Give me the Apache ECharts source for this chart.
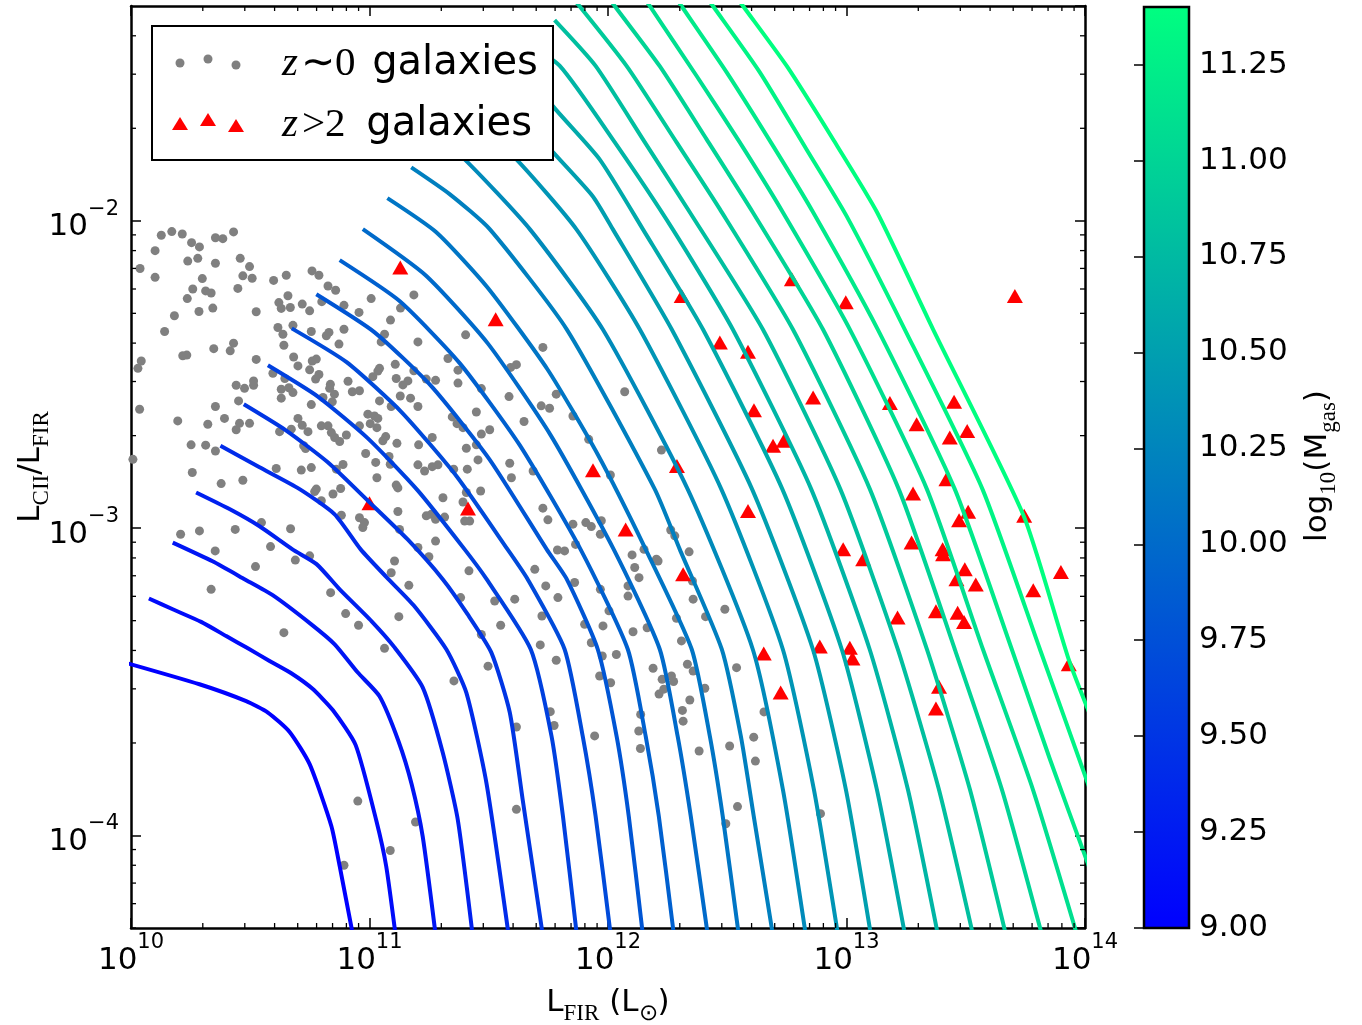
<!DOCTYPE html>
<html><head><meta charset="utf-8">
<script src="https://cdn.jsdelivr.net/npm/echarts@6/dist/echarts.min.js"></script>
<style>html,body{margin:0;padding:0;background:#fff}#c{width:1362px;height:1025px}</style>
</head><body><div id="c"></div>
<script>
// ---------------- DATA ----------------
const xRange = [1e10, 1e14];            // L_FIR (L_sun)
const yRange = [5e-5, 5e-2];            // L_CII / L_FIR
const colorRange = [9.0, 11.4];         // log10(M_gas)
const colorbarTickStep = 0.25;
const massLevels = [9.0,9.1,9.2,9.3,9.4,9.5,9.6,9.7,9.8,9.9,10.0,10.1,10.2,10.3,10.4,10.5,10.6,10.7,10.8,10.9,11.0,11.1,11.2,11.3,11.4];

// z~0 galaxies: [log10 L_FIR, log10 (L_CII/L_FIR)]
const z0Galaxies = [
[10.127,-2.047],[10.171,-2.035],[10.215,-2.043],[10.254,-2.071],[10.287,-2.085],[10.354,-2.055],[10.385,-2.058],[10.430,-2.036],
[10.101,-2.097],[10.238,-2.131],[10.280,-2.122],[10.354,-2.138],[10.458,-2.122],[10.497,-2.149],[10.038,-2.155],[10.101,-2.184],
[10.299,-2.188],[10.469,-2.179],[10.508,-2.187],[10.259,-2.222],[10.313,-2.228],[10.336,-2.235],[10.448,-2.220],[10.236,-2.253],
[10.343,-2.284],[10.285,-2.295],[10.525,-2.296],[10.182,-2.309],[10.141,-2.360],[10.430,-2.398],[10.416,-2.423],[10.347,-2.416],
[10.217,-2.439],[10.234,-2.437],[10.043,-2.456],[10.029,-2.480],[10.525,-2.451],[10.036,-2.613],[10.196,-2.651],[10.322,-2.662],
[10.354,-2.604],[10.392,-2.643],[10.252,-2.729],[10.313,-2.730],[10.354,-2.749],[10.257,-2.819],[10.378,-2.855],[10.469,-2.844],
[10.008,-2.776],
[10.598,-2.194],[10.651,-2.177],[10.759,-2.163],[10.788,-2.177],[10.826,-2.212],[10.858,-2.226],[10.658,-2.244],[10.620,-2.266],
[10.630,-2.285],[10.668,-2.282],[10.718,-2.271],[10.749,-2.293],[10.800,-2.263],[10.893,-2.275],[10.956,-2.298],[11.007,-2.253],
[11.186,-2.241],[11.130,-2.284],[11.088,-2.323],[10.679,-2.340],[10.616,-2.347],[10.637,-2.369],[10.641,-2.405],[10.756,-2.360],
[10.830,-2.363],[10.819,-2.374],[10.872,-2.401],[10.893,-2.353],[11.063,-2.369],[11.049,-2.394],[11.203,-2.394],[11.403,-2.371],
[11.727,-2.412],[11.329,-2.448],[11.371,-2.486],[11.592,-2.477],[11.616,-2.468],[10.682,-2.443],[10.700,-2.472],[10.749,-2.485],
[10.760,-2.456],[10.777,-2.450],[10.595,-2.496],[10.645,-2.513],[10.788,-2.500],[10.774,-2.515],[10.836,-2.532],[10.833,-2.545],
[10.910,-2.522],[10.853,-2.564],[10.958,-2.553],[10.928,-2.556],[11.014,-2.507],[11.042,-2.480],[11.035,-2.489],[11.108,-2.467],
[11.112,-2.513],[11.161,-2.521],[11.140,-2.534],[11.186,-2.488],[11.238,-2.515],[11.277,-2.519],[11.371,-2.528],[11.469,-2.546],
[11.585,-2.572],[11.783,-2.564],[11.720,-2.602],[11.755,-2.610],[11.853,-2.635],[10.441,-2.535],[10.476,-2.545],[10.514,-2.521],
[10.514,-2.535],[10.451,-2.586],[10.630,-2.548],[10.662,-2.543],[10.679,-2.559],[10.630,-2.577],[10.756,-2.598],[10.805,-2.575],
[10.844,-2.589],[11.042,-2.586],[11.091,-2.604],[11.129,-2.570],[11.172,-2.577],[11.203,-2.604],[11.347,-2.638],[11.448,-2.622],
[11.367,-2.660],[11.392,-2.673],[11.648,-2.653],[11.504,-2.680],[11.469,-2.694],[10.993,-2.629],[11.021,-2.635],[11.035,-2.643],
[11.003,-2.660],[11.031,-2.673],[10.958,-2.667],[10.798,-2.667],[10.826,-2.667],[10.840,-2.689],[10.854,-2.705],[10.875,-2.718],
[10.903,-2.697],[10.700,-2.643],[10.718,-2.665],[10.742,-2.686],[10.672,-2.678],[10.623,-2.686],[10.455,-2.659],[10.497,-2.659],
[10.441,-2.680],[11.068,-2.702],[11.056,-2.716],[11.115,-2.724],[11.206,-2.729],[11.263,-2.705],[11.406,-2.740],[11.448,-2.729],
[11.455,-2.778],[11.410,-2.808],[11.353,-2.808],[11.263,-2.800],[11.203,-2.794],[11.231,-2.814],[11.287,-2.794],[11.082,-2.767],
[11.087,-2.792],[11.026,-2.786],[10.984,-2.757],[10.889,-2.793],[10.861,-2.808],[10.732,-2.741],[10.724,-2.732],[10.714,-2.811],
[10.756,-2.803],[10.609,-2.806],[11.031,-2.836],[11.112,-2.860],[11.119,-2.869],[11.308,-2.901],[11.392,-2.915],[11.406,-2.884],
[11.466,-2.879],[11.588,-2.789],[11.595,-2.836],[11.686,-2.814],[11.727,-2.935],[11.748,-2.973],[10.798,-2.911],[10.770,-2.881],
[10.777,-2.873],[10.847,-2.889],[10.879,-2.871],[10.882,-2.958],[10.958,-2.966],[10.972,-2.998],[10.979,-2.982],[11.119,-2.946],
[11.126,-3.004],[11.238,-2.960],[11.259,-2.955],[11.277,-2.971],[11.315,-2.964],[11.399,-2.977],[11.420,-2.977],[11.788,-3.071],
[11.818,-3.074],[11.853,-2.987],[11.203,-3.063],[11.249,-3.093],[11.277,-3.042],[11.105,-3.107],[11.091,-3.145],[11.417,-3.139],
[11.693,-3.134],[11.864,-3.053],[10.749,-3.090],[10.689,-3.104],[10.669,-3.002],[10.585,-3.060],[10.522,-3.125],[10.437,-3.004],
[10.547,-2.982],[10.353,-3.074],[10.287,-3.009],[10.208,-3.020],
[10.336,-3.199],[10.641,-3.340],[10.837,-3.210],[10.900,-3.278],[10.954,-3.316],[11.063,-3.391],[11.123,-3.288],[11.165,-3.186],
[11.382,-3.226],[11.469,-3.346],[11.497,-3.449],[11.354,-3.497],[11.525,-3.237],[11.550,-3.316],[11.609,-3.231],[11.739,-3.188],
[11.790,-3.226],[11.723,-3.286],[11.716,-3.380],[11.783,-3.430],[11.758,-3.597],[11.774,-3.642],[11.616,-3.647],[11.860,-3.177],
[10.951,-3.888],[11.193,-3.956],[11.087,-4.049],[10.893,-4.097],[11.616,-3.915],
[11.919,-2.711],[12.070,-2.556],[12.010,-2.827],[12.224,-2.746],[11.907,-2.982],[11.930,-2.995],[11.972,-2.976],[11.968,-3.020],
[11.968,-3.199],[12.101,-3.087],[12.151,-3.069],[12.112,-3.128],[12.130,-3.161],[12.084,-3.188],[12.084,-3.221],[12.203,-3.101],
[12.210,-3.107],[12.263,-3.006],[12.280,-3.025],[12.340,-3.077],[12.354,-3.172],[12.357,-3.231],[12.004,-3.269],[11.979,-3.318],
[11.902,-3.313],[11.930,-3.373],[12.105,-3.337],[12.164,-3.324],[12.287,-3.293],[12.308,-3.367],[12.409,-3.288],[12.490,-3.264],
[11.976,-3.416],[12.035,-3.411],[11.965,-3.481],[12.189,-3.456],[12.333,-3.443],[12.357,-3.465],[12.539,-3.454],[12.266,-3.481],
[12.011,-3.503],[12.227,-3.492],[12.234,-3.524],[12.214,-3.540],[12.275,-3.499],[12.406,-3.521],[12.343,-3.559],[12.312,-3.593],
[12.315,-3.628],[12.137,-3.606],[12.129,-3.660],[12.136,-3.717],[11.944,-3.676],[12.382,-3.725],[12.510,-3.709],[12.611,-3.680],
[12.618,-3.758],[12.654,-3.598],[12.543,-3.906],[12.494,-3.962],[12.891,-3.929]
];

// z>2 galaxies: [log10 L_FIR, log10 (L_CII/L_FIR)]
const z2Galaxies = [
[11.129,-2.152],[11.529,-2.320],[12.309,-2.245],[12.771,-2.190],[12.997,-2.265],[13.706,-2.245],[12.469,-2.396],[12.587,-2.426],
[12.860,-2.575],[12.612,-2.616],[13.182,-2.593],[13.451,-2.589],[13.294,-2.662],[13.433,-2.705],[13.506,-2.684],[12.692,-2.732],
[12.737,-2.716],[11.937,-2.812],[12.289,-2.798],[13.419,-2.841],[13.279,-2.887],[12.587,-2.944],[12.074,-3.004],[13.510,-2.947],
[13.472,-2.974],[13.745,-2.960],[12.986,-3.069],[13.070,-3.101],[13.273,-3.047],[13.403,-3.069],[13.405,-3.085],[13.496,-3.134],
[13.461,-3.166],[13.542,-3.183],[13.899,-3.143],[13.783,-3.202],[12.315,-3.150],[13.214,-3.291],[13.375,-3.270],[13.466,-3.275],
[13.493,-3.305],[12.888,-3.385],[13.014,-3.389],[13.025,-3.424],[12.653,-3.408],[13.932,-3.443],[12.724,-3.535],[13.388,-3.516],
[13.375,-3.587],[11.000,-2.919],[11.413,-2.936]
];

// model curves, one per gas mass level: [log10 L_FIR, log10 (L_CII/L_FIR)]
const massCurves = [
[[9.973,-3.437],[10.287,-3.508],[10.483,-3.563],[10.574,-3.600],[10.665,-3.663],[10.749,-3.768],[10.840,-3.969],[10.875,-4.100],[10.930,-4.322]],
[[10.075,-3.229],[10.175,-3.264],[10.294,-3.305],[10.399,-3.351],[10.490,-3.391],[10.581,-3.432],[10.672,-3.472],[10.760,-3.522],[10.846,-3.592],[10.942,-3.706],[11.029,-3.953],[11.070,-4.100],[11.109,-4.322]],
[[10.175,-3.047],[10.342,-3.108],[10.476,-3.166],[10.594,-3.218],[10.756,-3.313],[10.854,-3.378],[10.950,-3.469],[11.042,-3.547],[11.122,-3.694],[11.177,-3.834],[11.223,-4.003],[11.277,-4.322]],
[[10.273,-2.884],[10.413,-2.938],[10.539,-2.994],[10.677,-3.069],[10.778,-3.117],[10.875,-3.199],[11.009,-3.303],[11.105,-3.388],[11.223,-3.518],[11.307,-3.730],[11.370,-3.948],[11.432,-4.322]],
[[10.375,-2.732],[10.539,-2.802],[10.707,-2.873],[10.854,-2.955],[10.963,-3.069],[11.072,-3.160],[11.185,-3.251],[11.322,-3.394],[11.406,-3.535],[11.490,-3.828],[11.583,-4.322]],
[[10.473,-2.597],[10.648,-2.681],[10.824,-2.785],[11.000,-2.916],[11.159,-3.036],[11.307,-3.166],[11.411,-3.280],[11.511,-3.405],[11.588,-3.599],[11.642,-3.882],[11.726,-4.322]],
[[10.574,-2.470],[10.782,-2.571],[10.992,-2.707],[11.202,-2.877],[11.399,-3.069],[11.491,-3.166],[11.676,-3.394],[11.763,-3.676],[11.811,-3.937],[11.869,-4.322]],
[[10.674,-2.350],[10.904,-2.460],[11.135,-2.623],[11.365,-2.831],[11.579,-3.069],[11.663,-3.166],[11.818,-3.394],[11.894,-3.677],[11.948,-3.937],[12.011,-4.322]],
[[10.777,-2.239],[11.020,-2.362],[11.259,-2.538],[11.503,-2.776],[11.743,-3.069],[11.827,-3.166],[11.957,-3.394],[12.036,-3.677],[12.087,-3.937],[12.146,-4.322]],
[[10.875,-2.128],[11.126,-2.261],[11.378,-2.463],[11.630,-2.730],[11.885,-3.069],[12.083,-3.394],[12.158,-3.677],[12.213,-3.937],[12.276,-4.322]],
[[10.972,-2.027],[11.235,-2.177],[11.495,-2.398],[11.760,-2.698],[12.024,-3.069],[12.217,-3.394],[12.292,-3.677],[12.347,-3.937],[12.418,-4.322]],
[[11.075,-1.926],[11.280,-2.037],[11.494,-2.216],[11.746,-2.483],[11.956,-2.759],[12.158,-3.069],[12.351,-3.394],[12.427,-3.677],[12.481,-3.937],[12.548,-4.322]],
[[11.175,-1.826],[11.336,-1.913],[11.504,-2.027],[11.827,-2.353],[12.196,-2.873],[12.301,-3.069],[12.477,-3.394],[12.557,-3.677],[12.611,-3.937],[12.691,-4.322]],
[[11.277,-1.728],[11.399,-1.800],[11.672,-2.027],[11.978,-2.353],[12.334,-2.873],[12.607,-3.394],[12.733,-3.849],[12.829,-4.322]],
[[11.378,-1.630],[11.616,-1.800],[11.867,-2.027],[12.133,-2.353],[12.475,-2.873],[12.733,-3.394],[12.863,-3.849],[12.964,-4.322]],
[[11.479,-1.532],[11.768,-1.776],[11.936,-1.920],[12.020,-2.027],[12.267,-2.353],[12.604,-2.873],[12.859,-3.394],[12.997,-3.849],[13.102,-4.322]],
[[11.579,-1.434],[11.768,-1.626],[11.965,-1.800],[12.146,-2.027],[12.398,-2.353],[12.731,-2.873],[12.980,-3.394],[13.127,-3.849],[13.245,-4.322]],
[[11.630,-1.409],[11.797,-1.495],[12.028,-1.744],[12.271,-2.027],[12.523,-2.353],[12.852,-2.873],[13.097,-3.394],[13.257,-3.849],[13.383,-4.322]],
[[11.776,-1.347],[11.948,-1.496],[12.154,-1.744],[12.343,-1.972],[12.649,-2.353],[12.974,-2.873],[13.215,-3.394],[13.387,-3.849],[13.530,-4.322]],
[[11.831,-1.254],[12.077,-1.495],[12.287,-1.744],[12.469,-1.962],[12.775,-2.353],[13.098,-2.873],[13.337,-3.394],[13.517,-3.849],[13.668,-4.322]],
[[11.978,-1.246],[12.028,-1.301],[12.217,-1.497],[12.413,-1.734],[12.607,-1.972],[12.901,-2.353],[13.219,-2.873],[13.454,-3.394],[13.651,-3.849],[13.819,-4.322]],
[[12.125,-1.246],[12.175,-1.301],[12.371,-1.528],[12.552,-1.744],[12.733,-1.972],[13.014,-2.353],[13.337,-2.873],[13.572,-3.394],[13.781,-3.849],[13.966,-4.322]],
[[12.259,-1.246],[12.308,-1.301],[12.497,-1.516],[12.692,-1.756],[12.860,-1.972],[13.131,-2.353],[13.454,-2.873],[13.693,-3.394],[13.853,-3.752],[14.021,-4.110]],
[[12.389,-1.246],[12.440,-1.301],[12.636,-1.516],[12.832,-1.767],[13.000,-1.984],[13.244,-2.353],[13.570,-2.873],[13.811,-3.394],[14.021,-3.850]],
[[12.515,-1.246],[12.566,-1.301],[12.750,-1.497],[12.943,-1.734],[13.128,-1.972],[13.363,-2.353],[13.744,-2.962],[13.932,-3.428],[14.021,-3.607]]
];

const xMinorTicks = [];
for (let e = 10; e < 14; e++) for (let m = 2; m <= 9; m++) xMinorTicks.push(m * Math.pow(10, e));
const yMinorTicks = [];
for (let e = -5; e <= -2; e++) for (let m = 2; m <= 9; m++) { const v = m * Math.pow(10, e); if (v >= yRange[0] - 1e-12 && v < yRange[1] - 1e-12) yMinorTicks.push(v); }

// ---------------- STYLE / BUILD ----------------
function winter(m) {
  const t = (m - colorRange[0]) / (colorRange[1] - colorRange[0]);
  return 'rgb(0,' + Math.round(255 * t) + ',' + Math.round(255 * (1 - 0.5 * t)) + ')';
}
const SANS = 'DejaVu Sans', SERIF = 'Liberation Serif';
const chart = echarts.init(document.getElementById('c'), null, {renderer: 'canvas'});

const supRich = {
  b: {fontFamily: SANS, fontSize: 31, color: '#000', lineHeight: 44, verticalAlign: 'bottom'},
  s: {fontFamily: SANS, fontSize: 21, color: '#000', lineHeight: 22, verticalAlign: 'top'}
};
const subRich = {
  n: {fontFamily: SANS, fontSize: 31, color: '#000', lineHeight: 31, verticalAlign: 'top'},
  s: {fontFamily: SERIF, fontSize: 23, color: '#000', lineHeight: 23, padding: [15, 0, 0, 0], verticalAlign: 'top'}
};
const axisCommon = {
  axisLine: {show: true, onZero: false, lineStyle: {color: '#000', width: 2.5}},
  axisTick: {show: true, inside: true, length: 10, lineStyle: {color: '#000', width: 1.5}},
  splitLine: {show: false}
};
const isDecade = v => Math.abs(Math.log10(v) - Math.round(Math.log10(v))) < 1e-6;

const series = [];
massCurves.forEach((curve, i) => {
  series.push({
    type: 'line', xAxisIndex: 0, yAxisIndex: 0,
    data: curve.map(p => [Math.pow(10, p[0]), Math.pow(10, p[1])]),
    showSymbol: false, symbol: 'none', silent: true, clip: true, z: 3,
    smooth: 0.2,
    lineStyle: {color: winter(massLevels[i]), width: 4, cap: 'butt', join: 'round'}
  });
});
series.push({
  type: 'scatter', name: 'z0', xAxisIndex: 0, yAxisIndex: 0, z: 2, silent: true,
  data: z0Galaxies.map(p => [Math.pow(10, p[0]), Math.pow(10, p[1])]),
  symbol: 'circle', symbolSize: 9, itemStyle: {color: '#808080', opacity: 1}
});
series.push({
  type: 'scatter', name: 'z2', xAxisIndex: 0, yAxisIndex: 0, z: 2, silent: true,
  data: z2Galaxies.map(p => [Math.pow(10, p[0]), Math.pow(10, p[1])]),
  symbol: 'triangle', symbolSize: [16, 14], itemStyle: {color: '#ff0000', opacity: 1}
});
// minor ticks on all four sides
const minorData = xMinorTicks.map(v => [v, yRange[0], 0]).concat(yMinorTicks.map(v => [xRange[0], v, 1]));
series.push({
  type: 'custom', xAxisIndex: 0, yAxisIndex: 0, silent: true, clip: false, z: 10,
  data: minorData, encode: {x: 0, y: 1},
  renderItem: function (params, api) {
    const cs = params.coordSys, L = 5, st = {stroke: '#000', lineWidth: 1.3};
    const p = api.coord([api.value(0), api.value(1)]);
    if (api.value(2) === 0) {
      return {type: 'group', children: [
        {type: 'line', shape: {x1: p[0], y1: cs.y + cs.height, x2: p[0], y2: cs.y + cs.height - L}, style: st},
        {type: 'line', shape: {x1: p[0], y1: cs.y, x2: p[0], y2: cs.y + L}, style: st}]};
    }
    return {type: 'group', children: [
      {type: 'line', shape: {x1: cs.x, y1: p[1], x2: cs.x + L, y2: p[1]}, style: st},
      {type: 'line', shape: {x1: cs.x + cs.width, y1: p[1], x2: cs.x + cs.width - L, y2: p[1]}, style: st}]};
  }
});
// colorbar
series.push({
  type: 'custom', xAxisIndex: 2, yAxisIndex: 2, silent: true, clip: false, z: 5,
  data: [[0, colorRange[1]]], encode: {x: 0, y: 1},
  renderItem: function (params, api) {
    const cs = params.coordSys;
    const p0 = api.coord([0, colorRange[0]]), p1 = api.coord([0, colorRange[1]]);
    return {type: 'rect', shape: {x: cs.x, y: p1[1], width: cs.width, height: p0[1] - p1[1]},
      style: {fill: new echarts.graphic.LinearGradient(0, 1, 0, 0, [
        {offset: 0, color: winter(colorRange[0])}, {offset: 1, color: winter(colorRange[1])}]),
        stroke: '#000', lineWidth: 2.5}};
  }
});

const legendRich = (padL, padR) => ({
  zi: {fontFamily: SERIF, fontStyle: 'italic', fontSize: 41, color: '#000'},
  m: {fontFamily: SERIF, fontSize: 41, color: '#000', padding: [0, padR, 0, padL]},
  g: {fontFamily: SANS, fontSize: 40, color: '#000'}
});

const option = {
  animation: false,
  backgroundColor: '#fff',
  grid: [
    {left: 131, top: 6, width: 954, height: 922},
    {left: 1144, top: 7, width: 45, height: 921}
  ],
  xAxis: [
    Object.assign({type: 'log', logBase: 10, min: xRange[0], max: xRange[1], gridIndex: 0, position: 'bottom',
      axisLabel: {show: true, margin: 4, formatter: v => '{b|10}{s|' + Math.round(Math.log10(v)) + '}', rich: supRich}}, axisCommon),
    Object.assign({type: 'log', logBase: 10, min: xRange[0], max: xRange[1], gridIndex: 0, position: 'top',
      axisLabel: {show: false}}, axisCommon),
    {type: 'value', min: 0, max: 1, gridIndex: 1, show: false}
  ],
  yAxis: [
    Object.assign({type: 'log', logBase: 10, min: yRange[0], max: yRange[1], gridIndex: 0, position: 'left',
      axisLabel: {show: true, margin: 12, showMinLabel: false, showMaxLabel: false,
        formatter: v => isDecade(v) ? '{b|10}{s|\u2212' + Math.abs(Math.round(Math.log10(v))) + '}' : '', rich: supRich}}, axisCommon),
    Object.assign({type: 'log', logBase: 10, min: yRange[0], max: yRange[1], gridIndex: 0, position: 'right',
      axisLabel: {show: false}}, axisCommon),
    {type: 'value', min: colorRange[0], max: colorRange[1], interval: colorbarTickStep, gridIndex: 1, position: 'right',
      axisLine: {show: false}, splitLine: {show: false},
      axisTick: {show: true, inside: true, length: 10, lineStyle: {color: '#000', width: 1.5}},
      axisLabel: {show: true, margin: 10, showMaxLabel: false, fontFamily: SANS, fontSize: 31, color: '#000',
        formatter: v => v.toFixed(2)}}
  ],
  series: series,
  graphic: [
    {type: 'text', z: 50, silent: true, x: 608, y: 1003,
      style: {text: '{n|L}{s|FIR}{n| (L}{s|\u2299}{n|)}', rich: subRich, align: 'center', verticalAlign: 'middle'}},
    {type: 'text', z: 50, silent: true, x: 31, y: 467, rotation: Math.PI / 2,
      style: {text: '{n|L}{s|CII}{n|/L}{s|FIR}', rich: subRich, align: 'center', verticalAlign: 'middle'}},
    {type: 'text', z: 50, silent: true, x: 1318, y: 466, rotation: Math.PI / 2,
      style: {text: '{n|log}{s|10}{n|(M}{s|gas}{n|)}', rich: subRich, align: 'center', verticalAlign: 'middle'}},
    {type: 'group', z: 100, silent: true, children: [
      {type: 'rect', z: 100, shape: {x: 152, y: 26, width: 401, height: 134}, style: {fill: '#fff', stroke: '#000', lineWidth: 2}},
      {type: 'circle', z: 101, shape: {cx: 180, cy: 63, r: 4.5}, style: {fill: '#808080'}},
      {type: 'circle', z: 101, shape: {cx: 208, cy: 59, r: 4.5}, style: {fill: '#808080'}},
      {type: 'circle', z: 101, shape: {cx: 236, cy: 65, r: 4.5}, style: {fill: '#808080'}},
      {type: 'polygon', z: 101, shape: {points: [[180, 117], [188, 130], [172, 130]]}, style: {fill: '#ff0000'}},
      {type: 'polygon', z: 101, shape: {points: [[208, 113], [216, 126], [200, 126]]}, style: {fill: '#ff0000'}},
      {type: 'polygon', z: 101, shape: {points: [[236, 119], [244, 132], [228, 132]]}, style: {fill: '#ff0000'}},
      {type: 'text', z: 101, x: 282, y: 64, style: {text: '{zi|z}{m|\u223c0}{g| galaxies}', verticalAlign: 'middle', align: 'left',
        rich: legendRich(3, 4)}},
      {type: 'text', z: 101, x: 282, y: 125, style: {text: '{zi|z}{m|>2}{g| galaxies}', verticalAlign: 'middle', align: 'left',
        rich: legendRich(4, 8)}}
    ]}
  ]
};
chart.setOption(option);
</script>
</body></html>
